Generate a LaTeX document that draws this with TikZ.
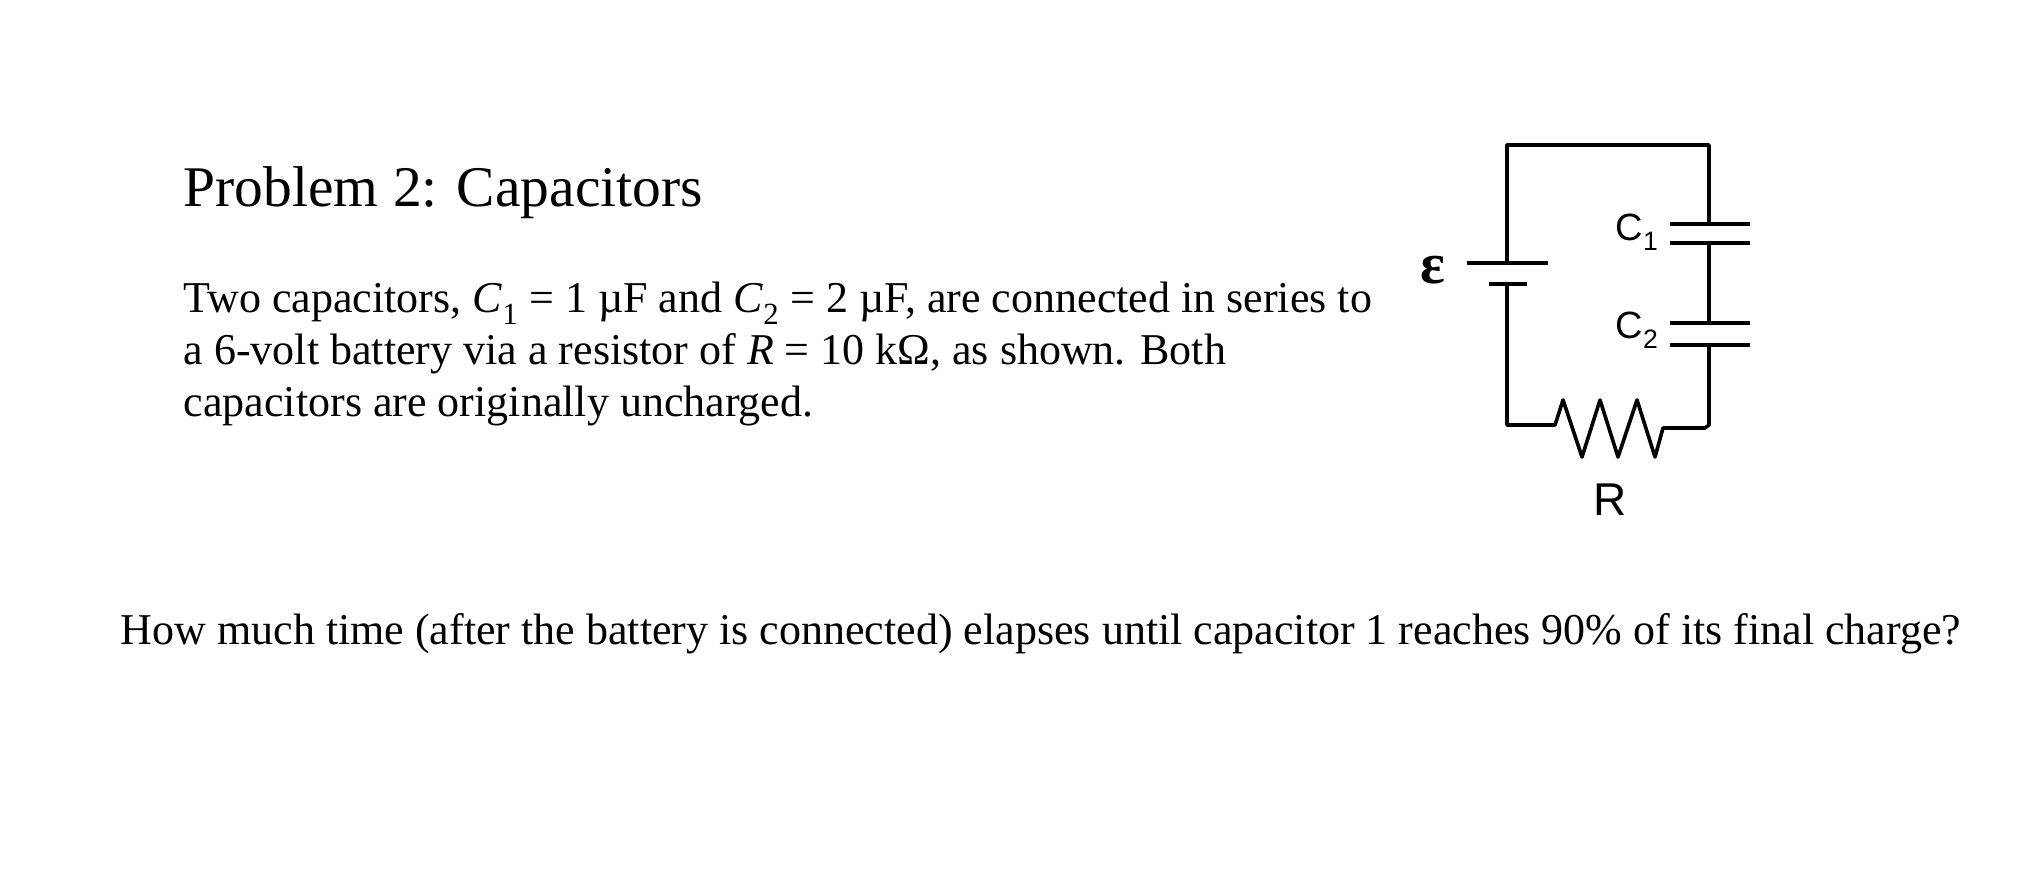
\documentclass[tikz,border=0pt]{standalone}
\usepackage{fontspec}
\setmainfont{Liberation Serif}
\newfontfamily\arialf{Liberation Sans}
\begin{document}
\begin{tikzpicture}[x=1pt,y=-1pt,line width=3.6pt,
  txt/.style={anchor=base west,inner sep=0pt,font=\fontsize{44}{52}\selectfont},
  lbl/.style={inner sep=0pt,font=\arialf\fontsize{38}{40}\selectfont}]
\useasboundingbox (0,0) rectangle (2026,874);
\node[txt,font=\fontsize{57.5}{60}\selectfont] (title) at (182,207) {Problem 2: Capacitors};
\node[txt] (l1) at (182,313) {Two capacitors, \textit{C}\textsubscript{1} = 1 µF and \textit{C}\textsubscript{2} = 2 µF, are connected in series to};
\node[txt] (l2) at (182,364) {a 6-volt battery via a resistor of \textit{R} = 10 kΩ, as shown. Both};
\node[txt] (l3) at (182,416) {capacitors are originally uncharged.};
\node[txt] (q) at (119,644) {How much time (after the battery is connected) elapses until capacitor 1 reaches 90\% of its final charge?};
% circuit
\coordinate (bt) at (1507,263);
\coordinate (bb) at (1507,284);
\coordinate (tl) at (1507,145);
\coordinate (tr) at (1709,145);
\coordinate (c1a) at (1709,224);
\coordinate (c1b) at (1709,243);
\coordinate (c2a) at (1709,323);
\coordinate (c2b) at (1709,345);
\coordinate (br) at (1709,425);
\coordinate (bl) at (1507,425);
\coordinate (ra) at (1555,425);
\coordinate (rb) at (1663,428);
\draw[line join=round] (bt) -- (tl) -- (tr) -- (c1a);
\draw (1467,263) -- (1548,263);
\draw (1489,284) -- (1527,284);
\draw (1670,224) -- (1750,224);
\draw (1670,243) -- (1750,243);
\draw (c1b) -- (c2a);
\draw (1670,323) -- (1750,323);
\draw (1670,345) -- (1750,345);
\draw[line join=round] (c2b) -- (br) -- (1705,428) -- (rb) -- (1655,457) -- (1637,400) -- (1618,457) -- (1600,400) -- (1582,457) -- (1563,400) -- (ra) -- (bl) -- (bb);
\node[lbl] (eps) at (1433,270) {\rmfamily\bfseries\fontsize{58}{58}\selectfont ε};
\node[lbl] (lc1) at (1637,232) {C\textsubscript{1}};
\node[lbl] (lc2) at (1637,330) {C\textsubscript{2}};
\node[lbl,font=\arialf\fontsize{46}{46}\selectfont] (lr) at (1610,500) {R};
\end{tikzpicture}
\end{document}
